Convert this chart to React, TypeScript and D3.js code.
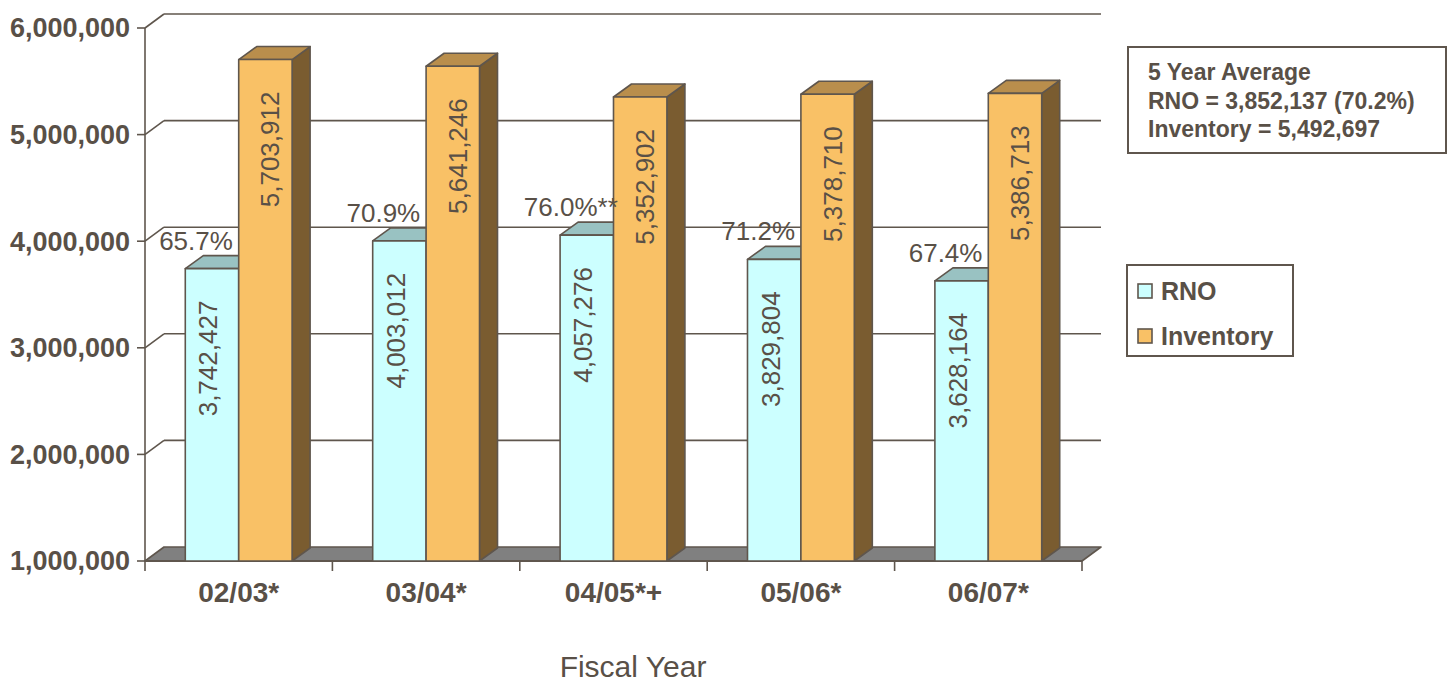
import React from "react";
import * as d3 from "d3";

// Fiscal-year RNO vs. Inventory, drawn as a 3-D clustered column chart
const categories = ["02/03*", "03/04*", "04/05*+", "05/06*", "06/07*"];
const seriesNames = ["RNO", "Inventory"];
const rnoValues = [3742427, 4003012, 4057276, 3829804, 3628164];
const inventoryValues = [5703912, 5641246, 5352902, 5378710, 5386713];
const percentLabels = ["65.7%", "70.9%", "76.0%**", "71.2%", "67.4%"];
const yTicks = [1000000, 2000000, 3000000, 4000000, 5000000, 6000000];
const averageLines = [
  "5 Year Average",
  "RNO = 3,852,137 (70.2%)",
  "Inventory = 5,492,697",
];

const W = 1453;
const H = 685;
const TEXT = "#595047";
const LINE = "#5f564d";
const FONT = "'Liberation Sans', Arial, sans-serif";

const faces = {
  RNO: { front: "#ccffff", top: "#99c2c2", side: "#5f8f8f" },
  Inventory: { front: "#f9c166", top: "#b98e4c", side: "#7a5c30" },
};

// plot frame
const x0 = 145;
const x1 = 1082;
const WALL_DX = 19;
const WALL_DY = -14;
const BAR_DX = 18;
const BAR_DY = -13;

export default function App() {
  const y = d3.scaleLinear().domain([1000000, 6000000]).range([561, 28]);
  const xCat = d3
    .scaleBand<string>()
    .domain(categories)
    .range([x0, x1])
    .paddingInner(0.43)
    .paddingOuter(0.215);
  const xSeries = d3
    .scaleBand<string>()
    .domain(seriesNames)
    .range([0, xCat.bandwidth()])
    .padding(0);

  const base = y(1000000);
  const fmt = d3.format(",");
  const step = (x1 - x0) / categories.length;

  const bar = (cat: string, name: string, value: number, key: string) => {
    const bx0 = (xCat(cat) as number) + (xSeries(name) as number);
    const bx1 = bx0 + xSeries.bandwidth();
    const top = y(value);
    const f = faces[name as "RNO" | "Inventory"];
    const topPts = [
      [bx0, top],
      [bx0 + BAR_DX, top + BAR_DY],
      [bx1 + BAR_DX, top + BAR_DY],
      [bx1, top],
    ];
    const sidePts = [
      [bx1, top],
      [bx1 + BAR_DX, top + BAR_DY],
      [bx1 + BAR_DX, base + BAR_DY],
      [bx1, base],
    ];
    return (
      <g key={key} stroke={LINE} strokeWidth={1.6} strokeLinejoin="round">
        <polygon points={sidePts.map((p) => p.join(",")).join(" ")} fill={f.side} />
        <polygon points={topPts.map((p) => p.join(",")).join(" ")} fill={f.top} />
        <rect x={bx0} y={top} width={bx1 - bx0} height={base - top} fill={f.front} />
      </g>
    );
  };

  const valueLabel = (cat: string, name: string, value: number, key: string) => {
    const bx0 = (xCat(cat) as number) + (xSeries(name) as number);
    const cx = bx0 + xSeries.bandwidth() / 2 + (name === "RNO" ? 5.5 : 14);
    const ty = y(value) + 32;
    return (
      <text
        key={key}
        transform={`translate(${cx},${ty}) rotate(-90)`}
        textAnchor="end"
        fontSize={26}
        fill={TEXT}
        fontFamily={FONT}
      >
        {fmt(value)}
      </text>
    );
  };

  return (
    <svg
      width={W}
      height={H}
      style={{ position: "absolute", left: 0, top: 0, background: "#fff" }}
      fontFamily={FONT}
    >
      {/* back wall gridlines and side-wall diagonals */}
      {yTicks.map((t) => (
        <g key={`g${t}`} stroke={LINE} strokeWidth={1.6} fill="none">
          {t > 1000000 && (
            <line x1={x0 + WALL_DX} x2={x1 + WALL_DX} y1={y(t) + WALL_DY} y2={y(t) + WALL_DY} />
          )}
          {t > 1000000 && <line x1={x0} x2={x0 + WALL_DX} y1={y(t)} y2={y(t) + WALL_DY} />}
          <line x1={x0 - 8} x2={x0} y1={y(t)} y2={y(t)} />
        </g>
      ))}
      {/* value axis */}
      <line x1={x0} x2={x0} y1={y(6000000)} y2={base} stroke={LINE} strokeWidth={1.6} />

      {/* floor */}
      <polygon
        points={[
          [x0, base],
          [x1, base],
          [x1 + WALL_DX, base + WALL_DY],
          [x0 + WALL_DX, base + WALL_DY],
        ]
          .map((p) => p.join(","))
          .join(" ")}
        fill="#808080"
        stroke={LINE}
        strokeWidth={1.6}
        strokeLinejoin="round"
      />
      <line x1={x0} x2={x1} y1={base} y2={base} stroke={LINE} strokeWidth={2} />
      {d3.range(categories.length + 1).map((i) => (
        <line
          key={`ct${i}`}
          x1={x0 + i * step}
          x2={x0 + i * step}
          y1={base}
          y2={base + 10}
          stroke={LINE}
          strokeWidth={1.6}
        />
      ))}

      {/* value axis labels */}
      {yTicks.map((t) => (
        <text
          key={`yl${t}`}
          x={130}
          y={y(t)}
          dy="0.35em"
          textAnchor="end"
          fontSize={27}
          fontWeight="bold"
          fill={TEXT}
        >
          {fmt(t)}
        </text>
      ))}

      {/* columns */}
      {categories.map((c, i) => (
        <g key={`bars${i}`}>
          {bar(c, "RNO", rnoValues[i], `r${i}`)}
          {bar(c, "Inventory", inventoryValues[i], `v${i}`)}
        </g>
      ))}

      {/* data labels */}
      {categories.map((c, i) => (
        <g key={`lab${i}`}>
          {valueLabel(c, "RNO", rnoValues[i], `rl${i}`)}
          {valueLabel(c, "Inventory", inventoryValues[i], `vl${i}`)}
          <text
            x={(xCat(c) as number) + xSeries.bandwidth() / 2 - 16}
            y={y(rnoValues[i]) - 19}
            textAnchor="middle"
            fontSize={26}
            fill={TEXT}
          >
            {percentLabels[i]}
          </text>
        </g>
      ))}

      {/* category labels */}
      {categories.map((c) => (
        <text
          key={`cl${c}`}
          x={(xCat(c) as number) + xCat.bandwidth() / 2}
          y={602}
          textAnchor="middle"
          fontSize={28}
          fontWeight="bold"
          fill={TEXT}
        >
          {c}
        </text>
      ))}

      <text x={633} y={677} textAnchor="middle" fontSize={30} fill={TEXT}>
        Fiscal Year
      </text>

      {/* averages box */}
      <rect x={1128} y={47} width={318} height={106} fill="#fff" stroke={LINE} strokeWidth={2} />
      {averageLines.map((s, i) => (
        <text
          key={`av${i}`}
          x={1148}
          y={80 + i * 28.5}
          fontSize={23}
          fontWeight="bold"
          fill={TEXT}
        >
          {s}
        </text>
      ))}

      {/* legend */}
      <rect x={1127} y={265} width={166} height={91} fill="#fff" stroke={LINE} strokeWidth={2} />
      {seriesNames.map((n, i) => (
        <g key={`lg${n}`}>
          <rect
            x={1138}
            y={284 + i * 45}
            width={14}
            height={14}
            fill={faces[n as "RNO" | "Inventory"].front}
            stroke={LINE}
            strokeWidth={1.6}
          />
          <text x={1161} y={300 + i * 45} fontSize={25} fontWeight="bold" fill={TEXT}>
            {n}
          </text>
        </g>
      ))}
    </svg>
  );
}
